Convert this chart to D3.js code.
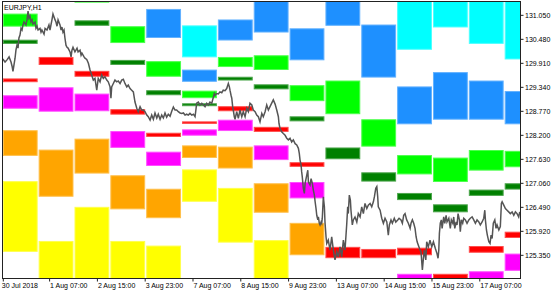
<!DOCTYPE html>
<html>
<head>
<meta charset="utf-8">
<script src="https://cdn.jsdelivr.net/npm/d3@7"></script>
<style>
  body { margin: 0; background: #fff; }
  svg text { font-family: "Liberation Sans", Arial, sans-serif; font-size: 7px; fill: #000; }
</style>
</head>
<body>
<script>
// ---------- data ----------
const symbol = 'EURJPY,H1';
const dayNames = ['31 Jul', '1 Aug', '2 Aug', '3 Aug', '6 Aug', '7 Aug', '8 Aug', '9 Aug',
                  '10 Aug', '13 Aug', '14 Aug', '15 Aug', '16 Aug', '17 Aug', '20 Aug'];
const priceTicks = [125.35, 125.92, 126.49, 127.06, 127.63, 128.20, 128.77, 129.34, 129.91, 130.48, 131.05];
const timeTickBars = [0, 31, 63, 95, 127, 159, 191, 223, 255, 287, 319];
const timeTickLabels = ['30 Jul 2018', '1 Aug 07:00', '2 Aug 15:00', '3 Aug 23:00', '7 Aug 07:00',
                        '8 Aug 15:00', '9 Aug 23:00', '13 Aug 07:00', '14 Aug 15:00', '15 Aug 23:00', '17 Aug 07:00'];

// zones per day: [upper, lower], null = not on screen
const cyanZone = [null, null, null, null, null, [130.80, 130.04], null, null, null, null, null,
                  [131.60, 130.22], [131.60, 130.75], [131.60, 130.36], [131.60, 129.99]];
const blueZone = [null, null, null, null, [131.19, 130.50], [129.75, 129.46], [130.94, 130.44],
                  [131.60, 130.63], [130.73, 129.97], [131.60, 130.79], [130.82, 129.56],
                  [129.35, 128.45], [129.69, 128.56], [129.49, 128.56], [129.24, 128.45]];
const limeZone = [[131.08, 130.77], null, [131.60, 131.34], [130.78, 130.38], [129.95, 129.58],
                  [129.25, 129.07], [130.05, 129.81], [130.09, 129.74], [129.38, 129.00],
                  [129.49, 128.69], [128.57, 127.92], [127.72, 127.26], [127.66, 127.08],
                  [127.84, 127.35], [127.82, 127.43]];
const greenZone = [[130.46, 130.36], null, [130.92, 130.79], [129.98, 129.86], [129.26, 129.14],
                   [128.95, 128.88], [129.58, 129.49], [129.40, 129.28], [128.64, 128.52],
                   [127.90, 127.62], [127.31, 127.09], [126.82, 126.65], [126.55, 126.36],
                   [126.90, 126.75], [127.05, 126.90]];
const redZone = [[129.54, 129.45], [130.05, 129.86], [129.72, 129.58], [128.81, 128.68], [128.25, 128.15],
                 [128.52, 128.46], [128.88, 128.76], [128.39, 128.27], [127.55, 127.44], [125.54, 125.27],
                 [125.49, 125.27], [125.52, 125.34], [124.90, 124.50], [125.56, 125.40], [125.90, 125.75]];
const magentaZone = [[129.14, 128.82], [129.33, 128.75], [129.18, 128.76], [128.29, 127.89], [127.80, 127.46],
                     [128.33, 128.18], [128.56, 128.29], [127.95, 127.60], [127.08, 126.69], null, null,
                     [124.90, 124.50], null, [124.96, 124.50], [125.38, 124.97]];
const orangeZone = [[128.31, 127.70], [127.85, 126.73], [128.11, 127.28], [127.24, 126.43], [126.92, 126.22],
                    [127.95, 127.65], [127.92, 127.40], [127.05, 126.35], [126.11, 125.34],
                    null, null, null, null, null, null];
const yellowZone = [[127.10, 125.42], [125.68, 124.50], [126.49, 124.50], [125.68, 124.50], [125.57, 124.50],
                    [127.38, 126.61], [126.94, 125.64], [125.70, 124.50],
                    null, null, null, null, null, null, null];

// hourly price path: [bar, price]
const priceLine = [
  [0,130.00],[1.5,129.93],[2.8,129.98],[4.2,130.05],[5.5,129.93],[6.2,129.83],[6.8,129.71],[8.2,130.02],
  [8.8,130.21],[9.5,130.33],[10.2,130.26],[10.8,130.50],[11.5,130.57],[12.2,130.73],[12.9,130.69],[13.5,130.81],
  [14.2,130.88],[15.5,130.81],[16.2,130.93],[16.9,131.14],[17.5,130.97],[18.2,131.02],[18.9,130.88],[19.6,130.93],
  [20.2,130.83],[21.6,130.88],[22.2,130.73],[22.9,130.78],[23.6,130.69],[24.9,130.73],[25.6,130.64],[26.2,130.69],
  [27.6,130.59],[28.3,130.73],[29.6,130.69],[30.9,130.81],[31.6,130.69],[32.9,130.93],[33.6,131.07],[35.0,130.93],
  [35.6,130.88],[36.3,130.78],[37.0,130.93],[38.3,130.81],[39.0,130.69],[39.6,130.76],[40.3,130.64],[41.0,130.69],
  [41.6,130.50],[42.3,130.33],[43.0,130.28],[43.7,130.26],[45.0,130.17],[45.7,130.05],[46.3,130.21],[47.0,130.28],
  [48.3,130.17],[49.7,130.26],[50.4,130.17],[51.7,130.21],[52.4,130.09],[53.0,130.14],[54.4,130.05],[55.0,130.02],
  [56.2,129.99],[57.3,129.90],[58.4,129.74],[59.5,129.62],[60.6,129.50],[61.7,129.54],[62.9,129.26],[63.9,129.54],
  [65.1,129.46],[66.2,129.62],[67.3,129.54],[68.4,129.58],[69.6,129.50],[70.6,129.46],[71.8,129.34],[72.4,129.07],
  [72.9,129.34],[74.0,129.42],[75.1,129.50],[76.3,129.46],[77.3,129.48],[78.5,129.42],[79.6,129.50],[80.7,129.52],
  [81.8,129.42],[83.0,129.34],[84.0,129.38],[85.2,129.30],[86.3,129.26],[87.4,129.22],[88.5,128.98],[89.7,128.83],
  [90.7,128.75],[91.9,128.87],[93.0,128.79],[94.1,128.79],[95.2,128.75],[96.4,128.67],[97.4,128.63],[98.6,128.55],
  [99.7,128.67],[100.8,128.57],[101.9,128.72],[103.1,128.60],[104.1,128.69],[105.3,128.57],[106.4,128.67],[107.5,128.60],
  [108.6,128.72],[109.7,128.62],[110.8,128.69],[112.0,128.64],[113.1,128.76],[114.2,128.86],[115.3,128.79],[116.4,128.79],
  [117.5,128.75],[118.7,128.72],[119.8,128.71],[120.9,128.72],[122.0,128.67],[123.1,128.69],[124.2,128.67],[125.3,128.71],
  [126.5,128.67],[127.6,128.69],[128.7,128.63],[129.4,128.83],[129.8,128.95],[130.9,128.98],[132.0,128.91],[133.2,128.95],
  [134.3,128.91],[135.4,128.87],[136.5,128.95],[137.6,128.91],[138.7,128.98],[139.9,128.95],[141.0,129.10],[141.6,129.18],
  [142.1,129.14],[143.2,129.18],[144.3,129.17],[145.4,129.22],[146.6,129.20],[147.6,129.26],[148.8,129.25],[149.9,129.30],
  [151.0,129.42],[151.7,129.34],[152.1,129.26],[152.8,129.14],[153.3,129.07],[153.9,128.87],[154.3,128.79],[155.0,128.63],
  [155.5,128.57],[156.6,128.75],[157.7,128.59],[158.8,128.79],[160.0,128.63],[161.0,128.75],[162.2,128.63],[163.3,128.83],
  [164.4,128.75],[165.5,128.95],[166.7,128.91],[167.7,128.79],[168.9,128.75],[170.0,128.67],[171.1,128.63],[172.2,128.51],
  [173.4,128.71],[174.4,128.63],[175.6,128.75],[176.7,128.91],[177.8,128.79],[178.9,128.87],[181.1,129.03],[182.3,128.93],
  [183.4,128.79],[184.5,128.63],[184.9,128.47],[185.6,128.35],[186.7,128.27],[187.8,128.23],[189.0,128.19],[190.1,128.12],
  [191.2,128.08],[192.3,128.12],[193.4,128.03],[194.5,128.08],[195.7,127.99],[196.8,127.96],[197.9,127.88],[198.5,127.76],
  [199.0,127.60],[199.7,127.48],[200.1,127.32],[200.5,127.20],[201.2,126.93],[201.9,126.81],[202.4,127.05],[203.5,127.24],
  [204.2,127.36],[204.6,127.08],[205.7,127.01],[206.4,127.16],[207.2,127.05],[207.9,126.89],[208.6,126.77],[209.1,126.61],
  [209.7,126.45],[210.2,126.29],[210.9,126.18],[211.3,126.25],[211.9,126.10],[212.4,126.06],[213.1,126.13],[213.5,126.10],
  [213.9,126.22],[214.6,126.73],[215.3,126.49],[215.7,126.13],[216.4,125.78],[216.9,125.62],[217.9,125.70],[219.1,125.46],
  [220.2,125.78],[221.3,125.46],[222.4,125.23],[223.6,125.42],[224.7,125.30],[225.8,125.54],[226.9,125.30],[228.0,125.70],
  [229.1,125.46],[230.3,126.10],[230.9,126.49],[231.3,126.33],[232.0,126.77],[232.7,126.65],[233.1,126.41],[234.0,126.06],
  [234.7,126.18],[235.8,126.25],[237.0,126.13],[238.0,126.33],[239.2,126.25],[240.3,126.49],[241.4,126.33],[242.5,126.57],
  [243.7,126.45],[244.7,126.53],[245.9,126.57],[247.0,126.49],[248.1,126.61],[248.8,126.73],[249.7,126.93],[250.4,126.97],
  [251.0,126.73],[251.4,126.49],[252.6,126.41],[253.7,126.22],[254.8,126.10],[255.9,126.22],[257.1,126.13],[258.1,125.82],
  [258.8,126.06],[259.9,126.18],[260.8,126.10],[262.1,126.22],[263.1,126.13],[264.4,126.18],[265.3,126.22],[266.6,126.18],
  [267.5,126.10],[268.4,126.29],[269.3,126.33],[270.4,126.18],[271.5,126.10],[272.7,125.98],[273.3,126.10],[274.2,126.18],
  [275.1,126.10],[276.0,125.98],[276.7,125.78],[277.4,125.66],[278.2,125.58],[279.4,125.46],[280.0,125.42],[280.9,124.99],
  [281.6,125.27],[282.2,125.46],[283.2,125.23],[283.8,125.66],[284.9,125.54],[286.0,125.70],[287.2,125.54],[288.3,125.66],
  [289.6,125.50],[290.7,125.38],[291.4,125.27],[291.9,125.46],[292.3,125.86],[292.9,126.10],[293.6,126.18],[294.1,125.98],
  [295.2,126.25],[295.9,126.10],[296.8,126.29],[297.4,126.13],[298.6,126.22],[299.6,125.98],[300.3,126.18],[301.3,126.10],
  [301.9,126.25],[302.6,125.98],[303.5,126.13],[304.1,126.06],[304.8,126.33],[305.7,126.18],[306.3,125.90],[307.0,126.18],
  [307.9,126.10],[308.6,126.22],[309.7,126.18],[310.8,126.10],[312.0,126.18],[313.0,126.22],[314.2,126.25],[315.3,126.18],
  [316.4,126.10],[317.5,126.18],[318.7,126.13],[319.7,126.06],[320.9,126.13],[322.0,126.22],[322.7,126.41],[323.1,126.18],
  [323.8,125.94],[324.4,125.82],[325.4,125.66],[326.2,125.62],[326.9,125.82],[327.6,125.74],[328.4,126.10],[329.4,126.18],
  [330.2,125.98],[330.9,126.06],[332.1,125.94],[333.1,126.02],[333.8,126.57],[334.3,126.61],[335.4,126.53],[336.5,126.45],
  [337.6,126.41],[338.7,126.37],[339.8,126.33],[341.0,126.37],[342.1,126.29],[343.2,126.37],[344.3,126.33],[345.4,126.25],
  [346.1,126.37]
];

// ---------- drawing ----------
const width = 560, height = 294;
const plotLeft = 2.8, plotRight = 520.5, plotTop = 2, plotBottom = 278;
const barsPerDay = 24;

let x = d3.scaleLinear().domain([0, 346.6]).range([plotLeft, plotRight]);
let y = d3.scaleLinear().domain([124.80, 131.355]).range([plotBottom, plotTop]);

let svg = d3.select('body').append('svg')
  .attr('width', width)
  .attr('height', height);

svg.append('clipPath').attr('id', 'plot-clip')
  .append('rect')
  .attr('x', 2.5).attr('y', plotTop)
  .attr('width', plotRight - 2.5).attr('height', plotBottom - plotTop);

let zones = [
  { data: cyanZone, color: '#00ffff' },
  { data: blueZone, color: '#1e90ff' },
  { data: limeZone, color: '#00ff00' },
  { data: greenZone, color: '#008000' },
  { data: redZone, color: '#ff0000' },
  { data: magentaZone, color: '#ff00ff' },
  { data: orangeZone, color: '#ffa500' },
  { data: yellowZone, color: '#ffff00' }
];

let boxLayer = svg.append('g').attr('clip-path', 'url(#plot-clip)');

zones.forEach(function (z) {
  let edge = d3.interpolateRgb(z.color, '#ffffff')(0.3);
  let cells = z.data.map((v, i) => ({ day: i, v: v })).filter(d => d.v);
  boxLayer.selectAll(null)
    .data(cells)
    .enter()
    .append('rect')
    .attr('x', d => x(d.day * barsPerDay) + 0.5)
    .attr('y', d => y(d.v[0]) + 0.5)
    .attr('width', d => x((d.day + 1) * barsPerDay) - x(d.day * barsPerDay) - 2)
    .attr('height', d => Math.max(0.5, y(d.v[1]) - y(d.v[0]) - 1))
    .attr('fill', z.color)
    .attr('stroke', edge)
    .attr('stroke-width', 1);
});

// price path
let line = d3.line()
  .x(d => x(d[0]))
  .y(d => y(d[1]));

svg.append('path')
  .datum(priceLine)
  .attr('clip-path', 'url(#plot-clip)')
  .attr('d', line)
  .attr('fill', 'none')
  .attr('stroke', '#555')
  .attr('stroke-width', 1.5)
  .attr('stroke-linejoin', 'miter');

// frame
svg.append('rect')
  .attr('x', 2.5).attr('y', 1.5)
  .attr('width', plotRight - 2.5).attr('height', plotBottom + 0.5 - 1.5)
  .attr('fill', 'none')
  .attr('stroke', '#222')
  .attr('stroke-width', 1);

// price axis on the right
let yAxis = d3.axisRight(y)
  .tickValues(priceTicks)
  .tickFormat(d3.format('.3f'))
  .tickSize(3)
  .tickPadding(1.5);

let yG = svg.append('g')
  .attr('transform', `translate(${plotRight},0)`)
  .call(yAxis);
yG.select('.domain').remove();
yG.selectAll('line').attr('stroke', '#222');
yG.selectAll('text').attr('font-size', 7).attr('font-family', null);

// time axis at the bottom
let xAxis = d3.axisBottom(x)
  .tickValues(timeTickBars)
  .tickFormat((d, i) => timeTickLabels[i])
  .tickSize(3)
  .tickPadding(2);

let xG = svg.append('g')
  .attr('transform', `translate(0,${plotBottom + 0.5})`)
  .call(xAxis);
xG.select('.domain').remove();
xG.selectAll('line').attr('stroke', '#222');
xG.selectAll('text')
  .attr('font-size', 7).attr('font-family', null)
  .attr('text-anchor', 'start')
  .attr('dx', (d, i) => i === 0 ? -1.5 : 0.5);

// symbol caption
svg.append('text')
  .attr('x', 4)
  .attr('y', 9.5)
  .text(symbol);
</script>
</body>
</html>
